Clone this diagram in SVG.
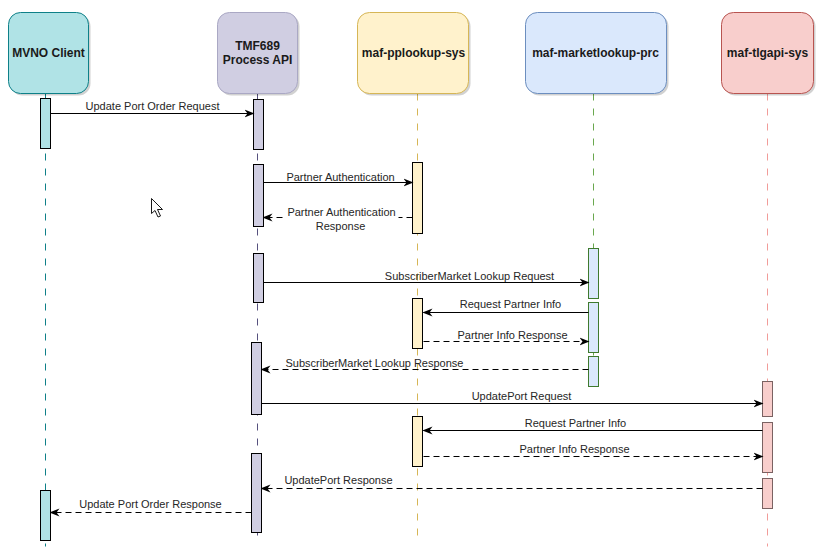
<svg xmlns="http://www.w3.org/2000/svg" width="824" height="548" viewBox="0 0 824 548">
<style>
.hdr{font-family:"Liberation Sans",Arial,sans-serif;font-size:12px;font-weight:bold;fill:#1a1a1a;text-anchor:middle}
.lbl{font-family:"Liberation Sans",Arial,sans-serif;font-size:11px;fill:#262626;text-anchor:middle}
.msg{stroke:#000;stroke-width:1;fill:none}
.ret{stroke:#000;stroke-width:1;fill:none;stroke-dasharray:6 4}
.life{stroke-width:1;fill:none;stroke-dasharray:7 8}
.shadow{fill:#000;opacity:0.18}
</style>
<defs>
<marker id="ah" viewBox="0 0 10 10" refX="9" refY="5" markerWidth="10" markerHeight="10" markerUnits="userSpaceOnUse" orient="auto">
<path d="M0,1 L10,5 L0,9 L3,5 z" fill="#000"/>
</marker>
</defs>
<rect width="824" height="548" fill="#fff"/>
<g transform="translate(0.5,0.5)">
<g id="lifelines">
<line class="life" x1="45" y1="93" x2="45" y2="546" stroke="#0e8088"/>
<line class="life" x1="257" y1="93" x2="257" y2="540" stroke="#56517e"/>
<line class="life" x1="417" y1="93" x2="417" y2="536" stroke="#d6b656"/>
<line class="life" x1="593" y1="93" x2="593" y2="391" stroke="#6aa84f"/>
<line class="life" x1="767" y1="93" x2="767" y2="546" stroke="#f19c99"/>
</g>

<g id="mvno">
<rect class="shadow" x="10" y="14" width="80" height="81" rx="12"/>
<rect x="8" y="12" width="80" height="81" rx="12" fill="#b0e3e6" stroke="#0e8088"/>
<text class="hdr" x="48" y="56">MVNO Client</text>
<rect x="40" y="98" width="10" height="50" fill="#b0e3e6" stroke="#000"/>
<rect x="40" y="490" width="10" height="50" fill="#b0e3e6" stroke="#000"/>
</g>

<g id="tmf">
<rect class="shadow" x="219" y="14" width="80" height="81" rx="12"/>
<rect x="217" y="12" width="80" height="81" rx="12" fill="#d0cee2" stroke="#aaa8c4"/>
<text class="hdr" x="257" y="49">TMF689</text>
<text class="hdr" x="257" y="63">Process API</text>
<rect x="253" y="99" width="10" height="50" fill="#d0cee2" stroke="#000"/>
<rect x="253" y="164" width="10" height="62" fill="#d0cee2" stroke="#000"/>
<rect x="253" y="253" width="10" height="49" fill="#d0cee2" stroke="#000"/>
<rect x="251" y="342" width="10" height="72" fill="#d0cee2" stroke="#000"/>
<rect x="251" y="453" width="10" height="79" fill="#d0cee2" stroke="#000"/>
</g>

<g id="pplookup">
<rect class="shadow" x="359" y="14" width="111" height="81" rx="12"/>
<rect x="357" y="12" width="111" height="81" rx="12" fill="#fff2cc" stroke="#d6b656"/>
<text class="hdr" x="413" y="56">maf-pplookup-sys</text>
<rect x="412" y="162" width="10" height="71" fill="#fff2cc" stroke="#000"/>
<rect x="412" y="298" width="10" height="50" fill="#fff2cc" stroke="#000"/>
<rect x="412" y="416" width="10" height="50" fill="#fff2cc" stroke="#000"/>
</g>

<g id="marketlookup">
<rect class="shadow" x="527" y="14" width="141" height="81" rx="12"/>
<rect x="525" y="12" width="141" height="81" rx="12" fill="#dae8fc" stroke="#6c8ebf"/>
<text class="hdr" x="595" y="56">maf-marketlookup-prc</text>
<rect x="588" y="248" width="10" height="50" fill="#dae8fc" stroke="#3f7a2e"/>
<rect x="588" y="302" width="10" height="50" fill="#dae8fc" stroke="#3f7a2e"/>
<rect x="588" y="356" width="10" height="30" fill="#dae8fc" stroke="#3f7a2e"/>
</g>

<g id="tlgapi">
<rect class="shadow" x="723" y="14" width="92" height="81" rx="12"/>
<rect x="721" y="12" width="92" height="81" rx="12" fill="#f8cecc" stroke="#b85450"/>
<text class="hdr" x="767" y="56">maf-tlgapi-sys</text>
<rect x="762" y="381" width="10" height="35" fill="#f8cecc" stroke="#7a6262"/>
<rect x="762" y="422" width="10" height="50" fill="#f8cecc" stroke="#7a6262"/>
<rect x="762" y="478" width="10" height="30" fill="#f8cecc" stroke="#7a6262"/>
</g>

<g id="connectors">
<line class="msg" x1="50" y1="113" x2="253" y2="113" marker-end="url(#ah)"/>
<text class="lbl" x="152" y="109">Update Port Order Request</text>

<line class="msg" x1="263" y1="182" x2="412" y2="182" marker-end="url(#ah)"/>
<text class="lbl" x="340" y="180">Partner Authentication</text>

<line class="ret" x1="412" y1="217" x2="263" y2="217" marker-end="url(#ah)"/>
<rect x="284" y="206" width="114" height="24" fill="#fff"/>
<text class="lbl" x="341" y="215">Partner Authentication</text>
<text class="lbl" x="340" y="229">Response</text>

<line class="msg" x1="263" y1="282" x2="588" y2="282" marker-end="url(#ah)"/>
<text class="lbl" x="469" y="279">SubscriberMarket Lookup Request</text>

<line class="msg" x1="588" y1="312" x2="423" y2="312" marker-end="url(#ah)"/>
<text class="lbl" x="510" y="307">Request Partner Info</text>

<line class="ret" x1="423" y1="341" x2="588" y2="341" marker-end="url(#ah)"/>
<text class="lbl" x="512" y="338">Partner Info Response</text>

<line class="ret" x1="588" y1="369" x2="261" y2="369" marker-end="url(#ah)"/>
<text class="lbl" x="374" y="366">SubscriberMarket Lookup Response</text>

<line class="msg" x1="261" y1="403" x2="762" y2="403" marker-end="url(#ah)"/>
<text class="lbl" x="521" y="399">UpdatePort Request</text>

<line class="msg" x1="762" y1="430" x2="423" y2="430" marker-end="url(#ah)"/>
<text class="lbl" x="575" y="426">Request Partner Info</text>

<line class="ret" x1="423" y1="456" x2="762" y2="456" marker-end="url(#ah)"/>
<text class="lbl" x="574" y="452">Partner Info Response</text>

<line class="ret" x1="762" y1="488" x2="261" y2="488" marker-end="url(#ah)"/>
<text class="lbl" x="338" y="483">UpdatePort Response</text>

<line class="ret" x1="251" y1="512" x2="50" y2="512" marker-end="url(#ah)"/>
<text class="lbl" x="150" y="507">Update Port Order Response</text>
</g>

<path d="M151,198 L151,213 L154.5,210 L157.5,216.5 L160,215.5 L157,209 L162,209 Z" fill="#fff" stroke="#000" stroke-width="0.9" stroke-linejoin="round"/>
</g>
</svg>
